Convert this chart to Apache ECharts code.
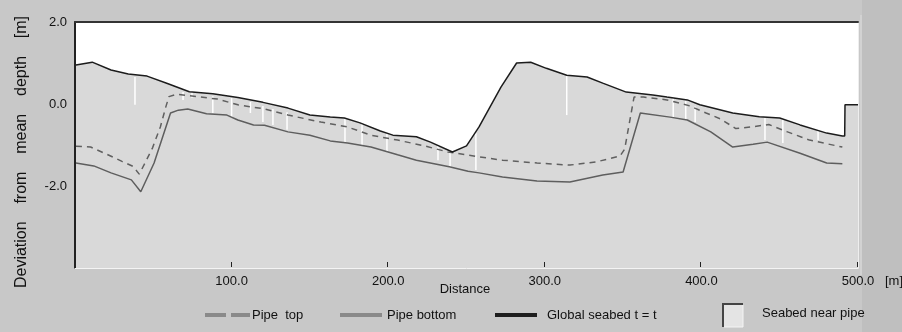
<!DOCTYPE html>
<html><head><meta charset="utf-8">
<script src="https://cdn.jsdelivr.net/npm/echarts@6/dist/echarts.min.js"></script>
<style>html,body{margin:0;padding:0;background:#c8c8c8;overflow:hidden}#c{width:902px;height:332px;}</style>
</head><body><div id="c"></div>
<script>
// ---- data ----
const xTickMarks = [100, 200, 300, 400, 500];
const seabed = [[0.6,0.95],[11,1.02],[23,0.83],[34,0.73],[46,0.68],[59,0.5],[73,0.3],[88,0.25],[104,0.16],[120,0.04],[136,-0.1],[150,-0.27],[163,-0.32],[172,-0.34],[182,-0.46],[195,-0.66],[203,-0.76],[218,-0.8],[227,-0.93],[241,-1.17],[250,-1.02],[258,-0.56],[272,0.41],[282,1.0],[291,1.02],[301,0.87],[314,0.7],[327,0.66],[337,0.51],[352,0.29],[369,0.22],[378,0.17],[391,0.1],[399,-0.02],[420,-0.22],[437,-0.31],[450,-0.34],[463,-0.51],[480,-0.71],[490,-0.78],[491.5,-0.78],[491.7,-0.02],[500,-0.02]];
const pipeTop = [[0.6,-1.03],[10,-1.05],[20,-1.22],[30,-1.4],[37,-1.52],[41,-1.71],[44.7,-1.44],[49.5,-1.07],[54.5,-0.56],[58,-0.07],[60,0.18],[65,0.24],[80,0.17],[91,0.12],[104,-0.02],[121,-0.12],[136,-0.27],[157,-0.44],[174,-0.56],[189,-0.76],[206,-0.88],[223,-1.02],[238,-1.17],[250,-1.24],[258,-1.29],[273,-1.37],[295,-1.44],[316,-1.49],[333,-1.41],[348,-1.27],[351,-1.1],[357,0.17],[363,0.17],[378,0.1],[392,-0.04],[403,-0.22],[412,-0.36],[422,-0.6],[432,-0.56],[443,-0.5],[455,-0.68],[469,-0.88],[490,-1.05]];
const pipeBottom = [[0.6,-1.44],[12,-1.51],[23,-1.68],[36,-1.85],[42,-2.14],[50.5,-1.44],[61,-0.22],[66,-0.15],[72,-0.12],[84,-0.24],[97,-0.27],[104,-0.39],[114,-0.51],[121,-0.52],[136,-0.68],[150,-0.76],[163,-0.9],[174,-0.95],[189,-1.05],[206,-1.24],[218,-1.37],[239,-1.53],[251,-1.64],[258,-1.68],[273,-1.78],[295,-1.88],[316,-1.9],[337,-1.73],[350,-1.66],[361,-0.22],[380,-0.32],[391,-0.39],[406,-0.68],[420,-1.05],[433,-0.98],[442,-0.93],[463,-1.2],[480,-1.44],[490,-1.46]];
// white gaps: [distance, top, bottom]
const gaps = [[38.3,0.66,-0.02],[69,0.29,0.1],[74.7,0.32,0.15],[88,0.19,-0.22],[100,0.15,-0.34],[112,0.05,-0.22],[120,-0.05,-0.44],[126.4,-0.12,-0.51],[135.4,-0.2,-0.63],[172.4,-0.36,-0.93],[183.3,-0.48,-1.0],[199.2,-0.72,-1.17],[231.8,-0.98,-1.37],[239.5,-1.14,-1.54],[256,-0.7,-1.61],[314,0.68,-0.27],[382,0.15,-0.34],[390,0.08,-0.39],[396,-0.06,-0.44],[440.6,-0.34,-0.88],[452,-0.37,-0.95],[474.5,-0.66,-0.88]];
const legendNames = ['Pipe  top', 'Pipe bottom', 'Global seabed t = t', 'Seabed near pipe'];
const yTitle = 'Deviation    from    mean    depth    [m]';
const xTitle = 'Distance';
const xUnit = '[m]';

const FONT = '"Liberation Sans", Arial, sans-serif';
const chart = echarts.init(document.getElementById('c'), null, {renderer: 'canvas'});
const lineOff = {show: false};
chart.setOption({
  animation: false,
  backgroundColor: '#c8c8c8',
  grid: {left: 75, right: 44, top: 22, bottom: 64, show: true, backgroundColor: '#ffffff', borderWidth: 0},
  xAxis: [
    {type: 'value', min: 0, max: 500, interval: 100, position: 'bottom', z: 10,
     axisLine: {show: true, onZero: false, lineStyle: {color: '#f4f4f4', width: 1}},
     axisTick: {show: false},
     axisLabel: {showMinLabel: false, formatter: v => v.toFixed(1), margin: 7, color: '#111', fontSize: 13, fontFamily: FONT},
     splitLine: lineOff},
    {type: 'value', min: 0, max: 500, position: 'top', z: 10,
     axisLine: {show: true, onZero: false, lineStyle: {color: '#333', width: 2}},
     axisTick: lineOff, axisLabel: lineOff, splitLine: lineOff}
  ],
  yAxis: [
    {type: 'value', min: -4, max: 2, interval: 2, position: 'left', z: 10,
     axisLine: {show: true, onZero: false, lineStyle: {color: '#222', width: 2}},
     axisTick: lineOff,
     axisLabel: {showMinLabel: false, formatter: v => v.toFixed(1), margin: 8, color: '#111', fontSize: 13, fontFamily: FONT},
     splitLine: lineOff},
    {type: 'value', min: -4, max: 2, position: 'right', z: 10,
     axisLine: {show: true, onZero: false, lineStyle: {color: '#eeeeee', width: 1}},
     axisTick: lineOff, axisLabel: lineOff, splitLine: lineOff}
  ],
  series: [
    {name: legendNames[3], type: 'line', data: seabed, showSymbol: false, z: 1,
     lineStyle: {width: 0, opacity: 0}, areaStyle: {color: '#d9d9d9', opacity: 1, origin: 'start'}},
    {name: 'gaps', type: 'custom', data: gaps, z: 2, encode: {x: 0, y: [1, 2]},
     renderItem: (params, api) => {
       const a = api.coord([api.value(0), api.value(1)]);
       const b = api.coord([api.value(0), api.value(2)]);
       return {type: 'line', shape: {x1: a[0], y1: a[1], x2: b[0], y2: b[1]}, style: {stroke: '#ffffff', lineWidth: 1.5}};
     }},
    {name: legendNames[0], type: 'line', data: pipeTop, showSymbol: false, z: 3,
     lineStyle: {color: '#606060', width: 1.5, type: [6, 5]}},
    {name: legendNames[1], type: 'line', data: pipeBottom, showSymbol: false, z: 3,
     lineStyle: {color: '#5e5e5e', width: 1.5}},
    {name: legendNames[2], type: 'line', data: seabed, showSymbol: false, z: 4,
     lineStyle: {color: '#1c1c1c', width: 1.5}},
    {name: 'ticks', type: 'custom', data: xTickMarks.map(v => [v, -4]), z: 6, clip: false, encode: {x: 0, y: 1},
     renderItem: (params, api) => {
       const p = api.coord([api.value(0), api.value(1)]);
       const x = Math.round(p[0]) - 0.5;
       return {type: 'line', shape: {x1: x, y1: p[1] - 1, x2: x, y2: p[1] - 6}, style: {stroke: '#222', lineWidth: 1}};
     }}
  ],
  graphic: [
    {type: 'rect', shape: {x: 862, y: 0, width: 40, height: 332}, style: {fill: '#bfbfbf'}, z: -10, silent: true},
    {type: 'line', shape: {x1: 861, y1: 15, x2: 861, y2: 275}, style: {stroke: '#dcdcdc', lineWidth: 1}, z: -9},
    {type: 'text', x: 22, y: 152, rotation: Math.PI / 2,
     style: {text: yTitle, fill: '#111', font: '16px ' + FONT, align: 'center', verticalAlign: 'middle'}},
    {type: 'text', x: 465, y: 289, style: {text: xTitle, fill: '#111', font: '13px ' + FONT, align: 'center', verticalAlign: 'middle'}},
    {type: 'text', x: 885, y: 281, style: {text: xUnit, fill: '#111', font: '13px ' + FONT, align: 'left', verticalAlign: 'middle'}},
    // legend
    {type: 'line', shape: {x1: 205, y1: 315, x2: 250, y2: 315}, style: {stroke: '#8a8a8a', lineWidth: 4, lineDash: [21, 5]}},
    {type: 'text', x: 252, y: 315, style: {text: legendNames[0], fill: '#111', font: '13px ' + FONT, verticalAlign: 'middle'}},
    {type: 'line', shape: {x1: 340, y1: 315, x2: 382, y2: 315}, style: {stroke: '#8a8a8a', lineWidth: 4}},
    {type: 'text', x: 387, y: 315, style: {text: legendNames[1], fill: '#111', font: '13px ' + FONT, verticalAlign: 'middle'}},
    {type: 'line', shape: {x1: 495, y1: 315, x2: 537, y2: 315}, style: {stroke: '#1e1e1e', lineWidth: 4}},
    {type: 'text', x: 547, y: 315, style: {text: legendNames[2], fill: '#111', font: '13px ' + FONT, verticalAlign: 'middle'}},
    {type: 'rect', shape: {x: 723, y: 304, width: 20, height: 23}, style: {fill: '#e4e4e4'}},
    {type: 'polyline', shape: {points: [[723, 327], [723, 304], [743, 304]]}, style: {stroke: '#444', lineWidth: 2, fill: null}},
    {type: 'polyline', shape: {points: [[743, 305], [743, 327], [724, 327]]}, style: {stroke: '#f4f4f4', lineWidth: 1, fill: null}},
    {type: 'text', x: 762, y: 313, style: {text: legendNames[3], fill: '#111', font: '13px ' + FONT, verticalAlign: 'middle'}}
  ]
});
</script>
</body></html>
